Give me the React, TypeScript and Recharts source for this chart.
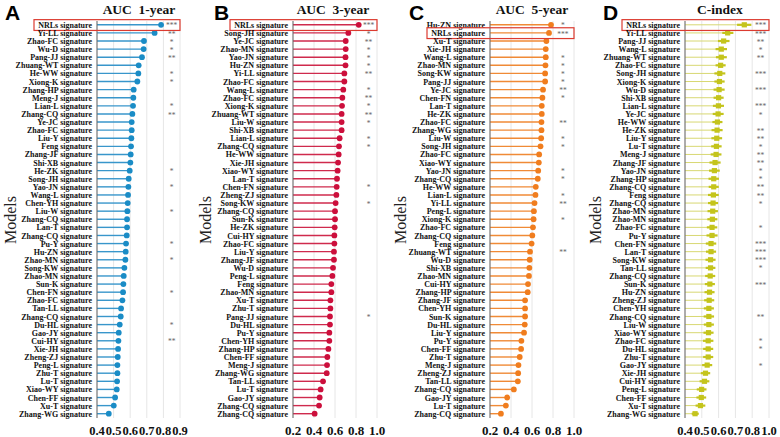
import React from "react";
import { ComposedChart, Bar, XAxis, YAxis, CartesianGrid } from "recharts";

// ---- Panel A: AUC 1-year ----
const A_MODELS = [
  "NRLs", "Yi-LL", "Zhao-FC", "Wu-D", "Pang-JJ", "Zhuang-WT", "He-WW", "Xiong-K", "Zhang-HP", "Meng-J",
  "Lian-L", "Zhang-CQ", "Ye-JC", "Zhao-FC", "Liu-Y", "Feng", "Zhang-JF", "Shi-XB", "He-ZK", "Song-JH",
  "Yao-JN", "Wang-L", "Chen-YH", "Liu-W", "Zhang-CQ", "Lan-T", "Zhang-CQ", "Pu-Y", "Hu-ZN", "Zhao-MN",
  "Song-KW", "Zhao-MN", "Sun-K", "Chen-FN", "Zhao-FC", "Tan-LL", "Zhang-CQ", "Du-HL", "Gao-JY", "Cui-HY",
  "Xie-JH", "Zheng-ZJ", "Peng-L", "Zhu-T", "Lu-T", "Xiao-WY", "Chen-FF", "Xu-T", "Zhang-WG",
];
const A_AUC = [
  0.786, 0.747, 0.683, 0.681, 0.671, 0.651, 0.649, 0.643, 0.621, 0.619,
  0.617, 0.613, 0.609, 0.609, 0.607, 0.605, 0.603, 0.601, 0.597, 0.591,
  0.589, 0.587, 0.585, 0.583, 0.581, 0.581, 0.579, 0.575, 0.573, 0.571,
  0.565, 0.561, 0.559, 0.557, 0.553, 0.545, 0.543, 0.537, 0.531, 0.529,
  0.527, 0.525, 0.523, 0.523, 0.521, 0.519, 0.509, 0.501, 0.471,
];
const A_SIG = [
  "***", "**", "*", "*", "**", "", "*", "*", "", "",
  "*", "**", "", "", "", "", "", "", "*", "",
  "*", "", "", "*", "", "", "", "*", "", "*",
  "", "", "", "*", "", "", "", "*", "", "**",
  "", "", "", "", "", "", "", "", "",
];

// ---- Panel B: AUC 3-year ----
const B_MODELS = [
  "NRLs", "Song-JH", "Ye-JC", "Zhao-MN", "Yao-JN", "Hu-ZN", "Yi-LL", "Zhao-FC", "Wang-L", "Zhao-FC",
  "Xiong-K", "Zhuang-WT", "Liu-W", "Shi-XB", "Lian-L", "Zhang-CQ", "He-WW", "Xie-JH", "Xiao-WY", "Lan-T",
  "Chen-FN", "Zheng-ZJ", "Song-KW", "Zhang-CQ", "Sun-K", "He-ZK", "Cui-HY", "Zhao-FC", "Liu-Y", "Zhang-JF",
  "Wu-D", "Peng-L", "Feng", "Zhao-MN", "Xu-T", "Zhu-T", "Pang-JJ", "Du-HL", "Pu-Y", "Chen-YH",
  "Zhang-HP", "Chen-FF", "Meng-J", "Zhang-WG", "Tan-LL", "Lu-T", "Gao-JY", "Zhang-CQ", "Zhang-CQ",
];
const B_AUC = [
  0.826, 0.727, 0.702, 0.702, 0.7, 0.7, 0.689, 0.689, 0.679, 0.67,
  0.667, 0.663, 0.663, 0.663, 0.644, 0.638, 0.635, 0.629, 0.625, 0.619,
  0.616, 0.613, 0.606, 0.6, 0.6, 0.597, 0.594, 0.594, 0.59, 0.59,
  0.581, 0.575, 0.565, 0.565, 0.556, 0.556, 0.552, 0.552, 0.546, 0.546,
  0.537, 0.527, 0.524, 0.521, 0.486, 0.463, 0.454, 0.448, 0.406,
];
const B_SIG = [
  "***", "*", "**", "*", "*", "*", "**", "", "*", "**",
  "*", "**", "*", "", "*", "*", "", "", "", "",
  "*", "", "*", "", "", "", "", "", "", "",
  "", "", "", "", "", "", "*", "", "", "",
  "", "", "", "", "", "", "", "", "",
];

// ---- Panel C: AUC 5-year ----
const C_MODELS = [
  "Hu-ZN", "NRLs", "Xu-T", "Xie-JH", "Wang-L", "Zhao-MN", "Song-KW", "Pang-JJ", "Ye-JC", "Chen-FN",
  "Lan-T", "He-ZK", "Zhao-FC", "Zhang-WG", "Liu-W", "Song-JH", "Zhao-FC", "Xiao-WY", "Yao-JN", "Zhang-CQ",
  "He-WW", "Lian-L", "Yi-LL", "Peng-L", "Xiong-K", "Zhao-FC", "Zhang-CQ", "Feng", "Zhuang-WT", "Wu-D",
  "Shi-XB", "Zhao-MN", "Cui-HY", "Zhang-HP", "Zhang-JF", "Chen-YH", "Sun-K", "Du-HL", "Liu-Y", "Pu-Y",
  "Chen-FF", "Zhu-T", "Meng-J", "Zheng-ZJ", "Tan-LL", "Zhang-CQ", "Gao-JY", "Lu-T", "Zhang-CQ",
];
const C_AUC = [
  0.781, 0.762, 0.737, 0.731, 0.731, 0.728, 0.725, 0.725, 0.705, 0.699,
  0.693, 0.693, 0.69, 0.69, 0.687, 0.681, 0.668, 0.665, 0.659, 0.655,
  0.636, 0.633, 0.624, 0.618, 0.615, 0.609, 0.603, 0.596, 0.581, 0.578,
  0.575, 0.571, 0.562, 0.559, 0.534, 0.534, 0.534, 0.531, 0.524, 0.499,
  0.496, 0.483, 0.471, 0.468, 0.465, 0.427, 0.364, 0.351, 0.304,
];
const C_SIG = [
  "*", "***", "", "", "*", "*", "*", "*", "**", "*",
  "", "", "**", "", "*", "*", "", "", "*", "*",
  "", "*", "**", "", "*", "", "", "", "**", "",
  "", "", "", "", "", "", "", "", "", "",
  "", "", "", "", "", "", "", "", "",
];

// ---- Panel D: C-index ----
const D_MODELS = [
  "NRLs", "Yi-LL", "Pang-JJ", "Wang-L", "Zhuang-WT", "Zhao-FC", "Song-JH", "Xiong-K", "Wu-D", "Shi-XB",
  "Lian-L", "Ye-JC", "He-WW", "He-ZK", "Liu-Y", "Lu-T", "Meng-J", "Zhang-JF", "Yao-JN", "Zhang-HP",
  "Zhang-CQ", "Feng", "Zhang-CQ", "Zhao-MN", "Zhao-MN", "Zhao-FC", "Pu-Y", "Chen-FN", "Lan-T", "Song-KW",
  "Tan-LL", "Zhang-CQ", "Sun-K", "Hu-ZN", "Zheng-ZJ", "Chen-YH", "Zhang-CQ", "Liu-W", "Xiao-WY", "Zhao-FC",
  "Du-HL", "Zhu-T", "Gao-JY", "Xie-JH", "Cui-HY", "Peng-L", "Chen-FF", "Xu-T", "Zhang-WG",
];
const D_CINDEX = [
  0.753, 0.654, 0.63, 0.616, 0.616, 0.612, 0.607, 0.605, 0.603, 0.6,
  0.599, 0.597, 0.593, 0.591, 0.589, 0.587, 0.585, 0.579, 0.575, 0.571,
  0.571, 0.569, 0.567, 0.565, 0.563, 0.561, 0.561, 0.555, 0.555, 0.552,
  0.552, 0.55, 0.548, 0.546, 0.544, 0.542, 0.542, 0.542, 0.54, 0.538,
  0.538, 0.538, 0.532, 0.522, 0.516, 0.499, 0.497, 0.492, 0.46,
];
const D_LOW = [
  0.71, 0.622, 0.596, 0.582, 0.584, 0.582, 0.575, 0.575, 0.57, 0.57,
  0.566, 0.565, 0.563, 0.558, 0.557, 0.556, 0.553, 0.546, 0.543, 0.54,
  0.541, 0.537, 0.537, 0.534, 0.533, 0.53, 0.528, 0.524, 0.525, 0.522,
  0.523, 0.52, 0.518, 0.516, 0.514, 0.512, 0.511, 0.512, 0.51, 0.507,
  0.508, 0.508, 0.502, 0.494, 0.487, 0.47, 0.468, 0.463, 0.44,
];
const D_HIGH = [
  0.795, 0.688, 0.665, 0.65, 0.649, 0.642, 0.64, 0.636, 0.636, 0.63,
  0.632, 0.63, 0.623, 0.624, 0.621, 0.618, 0.617, 0.612, 0.607, 0.602,
  0.601, 0.601, 0.597, 0.596, 0.593, 0.592, 0.594, 0.586, 0.585, 0.582,
  0.581, 0.58, 0.578, 0.576, 0.574, 0.572, 0.573, 0.572, 0.57, 0.569,
  0.568, 0.568, 0.562, 0.55, 0.545, 0.528, 0.526, 0.521, 0.482,
];
const D_SIG = [
  "***", "***", "**", "*", "**", "", "***", "", "***", "",
  "***", "*", "", "**", "**", "*", "**", "**", "*", "*",
  "**", "**", "*", "", "", "*", "", "***", "***", "***",
  "*", "", "***", "", "", "", "**", "", "", "*",
  "*", "", "*", "", "", "", "", "", "",
];

const TICKS_A = [0.4, 0.5, 0.6, 0.7, 0.8, 0.9];
const TICKS_BC = [0.2, 0.4, 0.6, 0.8, 1.0];
const TICKS_D = [0.4, 0.5, 0.6, 0.7, 0.8, 0.9];
const TICK_LABELS_D = ["0.4", "0.5", "0.6", "0.7", "0.8", "1.0"];

const CHART_W = 195;
const CHART_H = 437;
const SERIF = "'Liberation Serif', 'Times New Roman', serif";

type Panel = {
  letter: string;
  letterX: number;
  title: string;
  titleX: number;
  models: string[];
  values: number[];
  sig: string[];
  low?: number[];
  high?: number[];
  domain: [number, number];
  ticks: number[];
  tickLabels?: string[];
  tickFont: number;
  starAt: number;
  axisW: number;
  marginRight: number;
  dot: string;
  stem: string;
  square?: boolean;
};

const PANELS: Panel[] = [
  {
    letter: "A", letterX: 5, title: "AUC\u00a0\u00a01-year", titleX: 139,
    models: A_MODELS, values: A_AUC, sig: A_SIG,
    domain: [0.4, 0.9], ticks: TICKS_A, tickFont: 12.5, starAt: 0.85,
    axisW: 97, marginRight: 15, dot: "#1a8cc6", stem: "#3896cb",
  },
  {
    letter: "B", letterX: 19, title: "AUC\u00a0\u00a03-year", titleX: 138,
    models: B_MODELS, values: B_AUC, sig: B_SIG,
    domain: [0.2, 1.0], ticks: TICKS_BC, tickFont: 13, starAt: 0.92,
    axisW: 98, marginRight: 13, dot: "#cc0f3c", stem: "#cf2a4d",
  },
  {
    letter: "C", letterX: 19, title: "AUC\u00a0\u00a05-year", titleX: 142,
    models: C_MODELS, values: C_AUC, sig: C_SIG,
    domain: [0.2, 1.0], ticks: TICKS_BC, tickFont: 13, starAt: 0.895,
    axisW: 100, marginRight: 11, dot: "#f07d1e", stem: "#f08a36",
  },
  {
    letter: "D", letterX: 18, title: "C-index", titleX: 135,
    models: D_MODELS, values: D_CINDEX, sig: D_SIG, low: D_LOW, high: D_HIGH,
    domain: [0.4, 0.9], ticks: TICKS_D, tickLabels: TICK_LABELS_D, tickFont: 12.5, starAt: 0.85,
    axisW: 100, marginRight: 11, dot: "#c4c41c", stem: "#d8d872", square: true,
  },
];

function LollipopPanel({ p }: { p: Panel }) {
  const data = p.models.map((m, i) => ({
    id: String(i),
    name: m + " signature",
    value: p.values[i],
    sig: p.sig[i],
    low: p.low ? p.low[i] : null,
    high: p.high ? p.high[i] : null,
  }));
  const plotW = CHART_W - p.axisW - p.marginRight;

  const renderYTick = (props: any) => {
    const { x, y, payload } = props;
    const row = data[Number(payload.value)];
    const hl = row && row.name === "NRLs signature";
    return (
      <g>
        <text x={x - 5} y={y + 2.8} textAnchor="end" fontFamily={SERIF} fontWeight="bold" fontSize={8} fill="#111">
          {row ? row.name : ""}
        </text>
        {hl && (
          <rect x={x - 63} y={y - 5.4} width={63 + plotW} height={10.8} fill="none" stroke="#dc3b30" strokeWidth={1.2} />
        )}
      </g>
    );
  };

  const renderXTick = (props: any) => {
    const { x, y, payload, index } = props;
    const label = p.tickLabels ? p.tickLabels[index] : Number(payload.value).toFixed(1);
    return (
      <text x={x} y={y + 17} textAnchor="middle" fontFamily={SERIF} fontWeight="bold" fontSize={p.tickFont} fill="#111">
        {label}
      </text>
    );
  };

  // lollipop mark: stem from axis, dot (or square + CI) at the value, stars at a fixed column
  const renderMark = (props: any) => {
    const { x, y, width, height, payload } = props;
    const d0 = p.domain[0];
    const k = width / (payload.value - d0);
    const px = (v: number) => x + (v - d0) * k;
    const cy = y + height / 2;
    const vx = px(payload.value);
    return (
      <g>
        <line x1={x} y1={cy} x2={vx} y2={cy} stroke={p.stem} strokeWidth={p.square ? 1 : 1.4} />
        {p.square && payload.low != null && (
          <line x1={px(payload.low)} y1={cy} x2={px(payload.high)} y2={cy} stroke={p.dot} strokeWidth={2.2} />
        )}
        {p.square ? (
          <rect x={vx - 2.6} y={cy - 2.6} width={5.2} height={5.2} fill={p.dot} />
        ) : (
          <circle cx={vx} cy={cy} r={2.9} fill={p.dot} />
        )}
        {payload.sig && (
          <text x={px(p.starAt)} y={cy + 3.6} textAnchor="middle" fontFamily={SERIF} fontSize={7.5} fill="#666">
            {payload.sig}
          </text>
        )}
      </g>
    );
  };

  return (
    <div style={{ position: "relative", width: CHART_W, height: CHART_H }}>
      <ComposedChart
        width={CHART_W}
        height={CHART_H}
        data={data}
        layout="vertical"
        margin={{ top: 21, right: p.marginRight, bottom: 0, left: 0 }}
      >
        <CartesianGrid horizontal={false} stroke="#e6e6e6" />
        <XAxis
          type="number"
          domain={p.domain}
          ticks={p.ticks}
          allowDataOverflow
          interval={0}
          height={19}
          axisLine={false}
          tickLine={false}
          tickSize={0}
          tickMargin={0}
          tick={renderXTick}
        />
        <YAxis
          type="category"
          dataKey="id"
          width={p.axisW}
          interval={0}
          axisLine={{ stroke: "#666" }}
          tickLine={false}
          tickSize={0}
          tickMargin={0}
          tick={renderYTick}
        />
        <Bar dataKey="value" isAnimationActive={false} shape={renderMark} />
      </ComposedChart>
      <svg width={CHART_W} height={CHART_H} style={{ position: "absolute", left: 0, top: 0, pointerEvents: "none" }}>
        <text x={p.letterX} y={20} fontFamily="'Liberation Sans', Arial, sans-serif" fontWeight="bold" fontSize={21} fill="#000">
          {p.letter}
        </text>
        <text x={p.titleX} y={14} textAnchor="middle" fontFamily={SERIF} fontWeight="bold" fontSize={13.5} fill="#111">
          {p.title}
        </text>
        <text
          transform="translate(10, 220) rotate(-90)"
          textAnchor="middle"
          dominantBaseline="central"
          fontFamily={SERIF}
          fontSize={16}
          fill="#222"
        >
          Models
        </text>
      </svg>
    </div>
  );
}

export default function App() {
  return (
    <div style={{ position: "absolute", left: 0, top: 0, width: 780, height: 437, background: "#fff", overflow: "hidden" }}>
      {PANELS.map((p, i) => (
        <div key={p.letter} style={{ position: "absolute", left: i * CHART_W, top: 0 }}>
          <LollipopPanel p={p} />
        </div>
      ))}
    </div>
  );
}
